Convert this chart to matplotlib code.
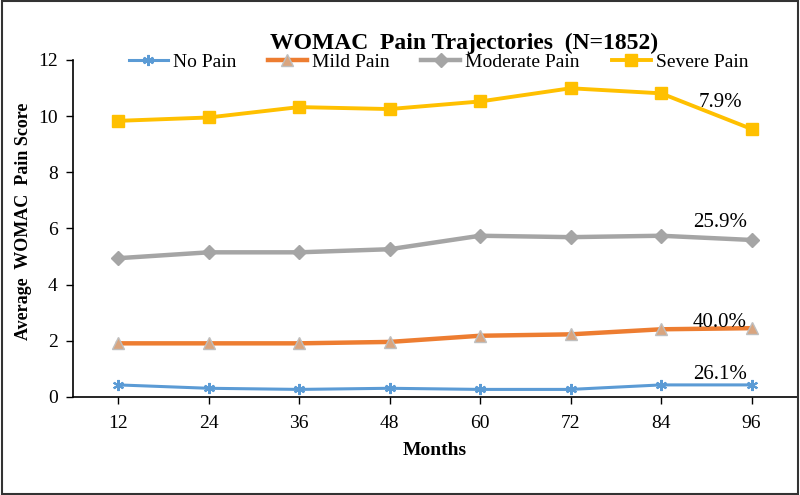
import matplotlib.pyplot as plt
from matplotlib.patches import Rectangle

months = ['12', '24', '36', '48', '60', '72', '84', '96']
no_pain = [0.43, 0.31, 0.27, 0.31, 0.27, 0.27, 0.43, 0.43]
mild_pain = [1.91, 1.91, 1.91, 1.96, 2.18, 2.23, 2.41, 2.45]
moderate_pain = [4.94, 5.15, 5.15, 5.26, 5.74, 5.69, 5.74, 5.59]
severe_pain = [9.83, 9.95, 10.32, 10.25, 10.52, 10.99, 10.81, 9.54]
shares = ['26.1%', '40.0%', '25.9%', '7.9%']

plt.rcParams['font.family'] = ['Liberation Serif', 'DejaVu Serif']

fig = plt.figure(figsize=(8, 4.95), dpi=100)
ax = fig.add_axes([0.091, 0.198, 0.905, 0.681])

x = list(range(1, len(months) + 1))
ax.plot(x, no_pain, color='#5B9BD5', lw=2.2, marker=(6, 2, 0), ms=8, mew=1.5,
        label='No Pain')
ax.plot(x, mild_pain, color='#ED7D31', lw=3.2, marker='^', ms=8,
        mfc='#D9A57F', mec='#BFBFBF', label='Mild Pain')
ax.plot(x, moderate_pain, color='#A5A5A5', lw=3.2, marker='D', ms=7,
        mfc='#A5A5A5', mec='#A5A5A5', label='Moderate Pain')
ax.plot(x, severe_pain, color='#FFC000', lw=2.8, marker='s', ms=9,
        label='Severe Pain')

# percent labels near last points
ax.text(x[-1] - 0.05, no_pain[-1] + 0.05, shares[0], ha='right', va='bottom', fontsize=15)
ax.text(x[-1] - 0.05, mild_pain[-1] - 0.12, shares[1], ha='right', va='bottom', fontsize=15)
ax.text(x[-1] - 0.05, moderate_pain[-1] + 0.3, shares[2], ha='right', va='bottom', fontsize=15)
ax.text(x[-1] - 0.1, 10.5, shares[3], ha='right', va='center', fontsize=15)

ax.set_xlim(0.5, 8.5)
ax.set_ylim(0, 12)
ax.set_xticks(x)
ax.set_xticklabels(months)
ax.set_yticks(range(0, 13, 2))
ax.tick_params(labelsize=14, length=5, width=1, direction='out', pad=6)
ax.tick_params(axis='x', pad=8)
ax.spines['top'].set_visible(False)
ax.spines['right'].set_visible(False)
for s in ('left', 'bottom'):
    ax.spines[s].set_linewidth(1.2)

ax.set_xlabel('Months', fontsize=14, fontweight='bold', labelpad=7)
ax.set_ylabel('Average  WOMAC  Pain Score', fontsize=13, fontweight='bold')
ax.yaxis.set_label_coords(-0.057, 0.52)

fig.text(0.58, 0.913, 'WOMAC  Pain Trajectories  (N=1852)', ha='center', va='center',
         fontsize=17, fontweight='bold')
ax.legend(loc='center', bbox_to_anchor=(0.548, 0.875), bbox_transform=fig.transFigure,
          ncol=4, frameon=False, fontsize=14, handlelength=2.0, columnspacing=1.65,
          handletextpad=0.25)

fig.patches.append(Rectangle((0.002, 0.003), 0.996, 0.994, transform=fig.transFigure,
                             fill=False, edgecolor='#333333', lw=1.5))

fig.savefig('out.png', dpi=100)
